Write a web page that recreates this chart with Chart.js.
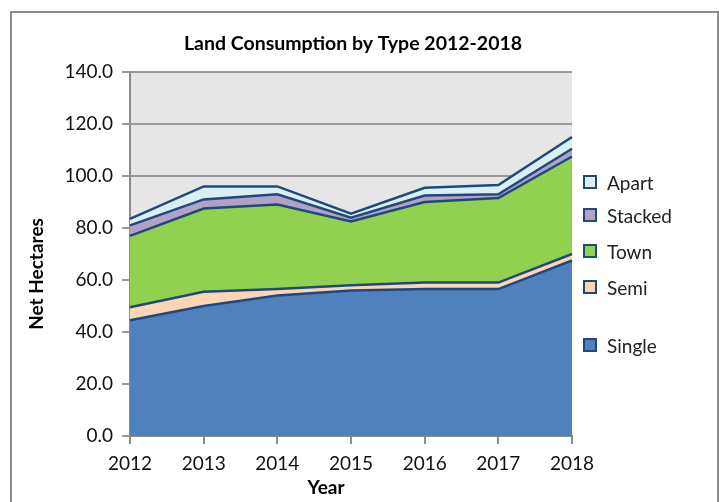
<!DOCTYPE html>
<html>
<head>
<meta charset="utf-8">
<script src="https://cdn.jsdelivr.net/npm/chart.js@4.4.1/dist/chart.umd.min.js"></script>
<style>
    body { margin: 0; background: #fff; }
    #wrap { width: 719px; height: 502px; }
</style>
</head>
<body>
<div id="wrap"><canvas id="landChart" width="719" height="502"></canvas></div>
<script>
const years = ['2012', '2013', '2014', '2015', '2016', '2017', '2018'];
const single = [44.5, 50, 54, 56, 56.5, 56.5, 67.5];
const semi = [5, 5.5, 2.5, 2, 2.5, 2.5, 2.5];
const town = [27.5, 32, 32.5, 24.5, 31, 32.5, 37.5];
const stacked = [4, 3.5, 4, 1.5, 2.5, 1.5, 3];
const apart = [2.5, 5, 3, 1.5, 3, 3.5, 4.5];

const FONT = 'Lato, "Open Sans", sans-serif';
const edge = '#1f497d';

function area(label, data, color, fill) {
    return {
        label: label,
        data: data,
        backgroundColor: color,
        borderColor: edge,
        borderWidth: 2.5,
        pointRadius: 0,
        tension: 0,
        fill: fill
    };
}

// plot background, outer frame, titles and the legend
const decor = {
    id: 'decor',
    beforeDraw(chart) {
        const { ctx, chartArea: a } = chart;
        ctx.save();
        ctx.fillStyle = '#e6e6e6';
        ctx.fillRect(a.left, a.top, a.right - a.left, a.bottom - a.top);
        ctx.restore();
    },
    afterDraw(chart) {
        const ctx = chart.ctx;
        ctx.save();
        ctx.strokeStyle = '#8c8c8c';
        ctx.lineWidth = 2;
        ctx.strokeRect(11, 12, 707, 500);

        ctx.fillStyle = '#000';
        ctx.textAlign = 'center';
        ctx.textBaseline = 'middle';
        ctx.font = 'bold 19.5px ' + FONT;
        ctx.fillText('Land Consumption by Type 2012-2018', 353, 44);
        ctx.font = 'bold 19px ' + FONT;
        ctx.fillText('Year', 326, 488);

        ctx.save();
        ctx.translate(37, 274);
        ctx.rotate(-Math.PI / 2);
        ctx.fillText('Net Hectares', 0, 0);
        ctx.restore();

        // legend, top to bottom
        const rows = [4, 3, 2, 1, 0];
        const ys = [182, 215, 251, 287, 345];
        ctx.font = '19px ' + FONT;
        ctx.textAlign = 'left';
        rows.forEach((idx, i) => {
            const ds = chart.data.datasets[idx];
            ctx.fillStyle = ds.backgroundColor;
            ctx.fillRect(584, ys[i] - 6, 12, 12);
            ctx.strokeStyle = edge;
            ctx.lineWidth = 2;
            ctx.strokeRect(584, ys[i] - 6, 12, 12);
            ctx.fillStyle = '#222';
            ctx.fillText(ds.label, 607, ys[i] + 2);
        });
        ctx.restore();
    }
};

new Chart(document.getElementById('landChart'), {
    type: 'line',
    data: {
        labels: years,
        datasets: [
            area('Single', single, '#4f81bd', 'origin'),
            area('Semi', semi, '#fcd5b5', '-1'),
            area('Town', town, '#92d050', '-1'),
            area('Stacked', stacked, '#b3a2c7', '-1'),
            area('Apart', apart, '#dbeef4', '-1')
        ]
    },
    options: {
        responsive: false,
        animation: false,
        layout: { padding: { top: 72, right: 147, left: 0, bottom: 0 } },
        plugins: {
            legend: { display: false },
            title: { display: false },
            tooltip: { enabled: false }
        },
        scales: {
            x: {
                offset: false,
                afterFit: (s) => { s.height = 66; },
                grid: {
                    drawOnChartArea: false,
                    color: '#8c8c8c',
                    lineWidth: 2,
                    tickLength: 8
                },
                border: { color: '#8c8c8c', width: 2 },
                ticks: {
                    padding: 8,
                    color: '#111',
                    font: { family: FONT, size: 19 },
                    maxRotation: 0
                }
            },
            y: {
                stacked: true,
                min: 0,
                max: 140,
                afterFit: (s) => { s.width = 130; },
                grid: {
                    color: '#9a9a9a',
                    lineWidth: 2,
                    tickLength: 8
                },
                border: { color: '#8c8c8c', width: 2 },
                ticks: {
                    stepSize: 20,
                    padding: 9,
                    color: '#111',
                    font: { family: FONT, size: 19 },
                    callback: (v) => v.toFixed(1)
                }
            }
        }
    },
    plugins: [decor]
});
</script>
</body>
</html>
